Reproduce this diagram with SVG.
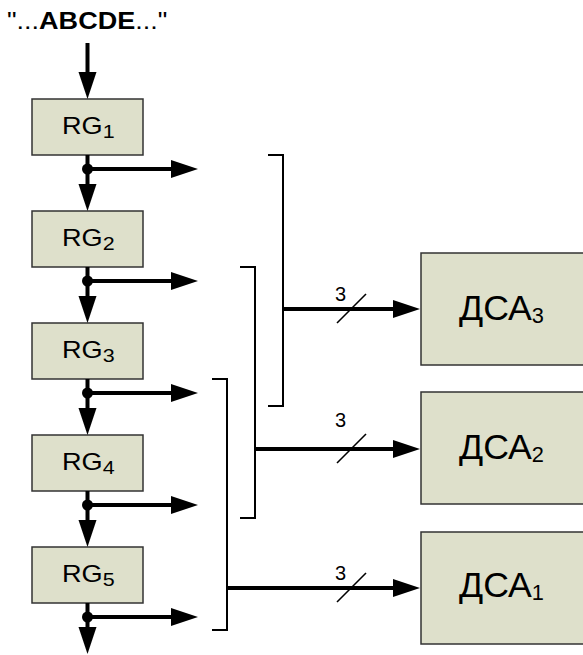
<svg xmlns="http://www.w3.org/2000/svg" width="583" height="655" viewBox="0 0 583 655">
<style>
.box{fill:#dee0cb;stroke:#333;stroke-width:1.5}
.t{font-family:"Liberation Sans",Arial,sans-serif;fill:#000}
.w{stroke:#000;stroke-width:4;fill:none}
.br{stroke:#000;stroke-width:2;fill:none}
.sl{stroke:#000;stroke-width:1.6;fill:none}
</style>
<defs>
<marker id="ah" markerUnits="userSpaceOnUse" markerWidth="28" markerHeight="20" refX="7" refY="9" orient="auto" viewBox="0 0 28 18">
<path d="M0,0 L27,9 L0,18 z" fill="#000"/>
</marker>
</defs>
<rect width="583" height="655" fill="#fff"/>
<text id="title" class="t" font-size="23.5" transform="translate(7,29) scale(1.15,1)">"...<tspan font-weight="bold">ABCDE</tspan>..."</text>

<g id="rg1"><rect class="box" x="32" y="99" width="111" height="56"/><text class="t" font-size="24" transform="translate(62,134) scale(1.13,1)">RG<tspan font-size="19" dy="4">1</tspan></text></g>
<g id="rg2"><rect class="box" x="32" y="211" width="111" height="56"/><text class="t" font-size="24" transform="translate(62,246) scale(1.13,1)">RG<tspan font-size="19" dy="4">2</tspan></text></g>
<g id="rg3"><rect class="box" x="32" y="323" width="111" height="56"/><text class="t" font-size="24" transform="translate(62,358) scale(1.13,1)">RG<tspan font-size="19" dy="4">3</tspan></text></g>
<g id="rg4"><rect class="box" x="32" y="435" width="111" height="56"/><text class="t" font-size="24" transform="translate(62,470) scale(1.13,1)">RG<tspan font-size="19" dy="4">4</tspan></text></g>
<g id="rg5"><rect class="box" x="32" y="547" width="111" height="56"/><text class="t" font-size="24" transform="translate(62,582) scale(1.13,1)">RG<tspan font-size="19" dy="4">5</tspan></text></g>

<g id="dca3"><rect class="box" x="421" y="253" width="170" height="112"/><text class="t" font-size="36" transform="translate(459,320) scale(0.99,1)">ДСА<tspan font-size="22" dy="3">3</tspan></text></g>
<g id="dca2"><rect class="box" x="421" y="392" width="170" height="112"/><text class="t" font-size="36" transform="translate(459,459) scale(0.99,1)">ДСА<tspan font-size="22" dy="3">2</tspan></text></g>
<g id="dca1"><rect class="box" x="421" y="532" width="170" height="112"/><text class="t" font-size="36" transform="translate(459,597) scale(0.99,1)">ДСА<tspan font-size="22" dy="3">1</tspan></text></g>

<g id="connectors">
<line class="w" x1="87.5" y1="43" x2="87.5" y2="79" marker-end="url(#ah)"/>
<line class="w" x1="87.5" y1="155" x2="87.5" y2="191" marker-end="url(#ah)"/>
<line class="w" x1="87.5" y1="267" x2="87.5" y2="303" marker-end="url(#ah)"/>
<line class="w" x1="87.5" y1="379" x2="87.5" y2="415" marker-end="url(#ah)"/>
<line class="w" x1="87.5" y1="491" x2="87.5" y2="527" marker-end="url(#ah)"/>
<line class="w" x1="87.5" y1="603" x2="87.5" y2="634" marker-end="url(#ah)"/>
<line class="w" x1="87.5" y1="169" x2="178" y2="169" marker-end="url(#ah)"/>
<line class="w" x1="87.5" y1="281" x2="178" y2="281" marker-end="url(#ah)"/>
<line class="w" x1="87.5" y1="393" x2="178" y2="393" marker-end="url(#ah)"/>
<line class="w" x1="87.5" y1="505" x2="178" y2="505" marker-end="url(#ah)"/>
<line class="w" x1="87.5" y1="617" x2="178" y2="617" marker-end="url(#ah)"/>
<circle cx="87.5" cy="169" r="5.5"/>
<circle cx="87.5" cy="281" r="5.5"/>
<circle cx="87.5" cy="393" r="5.5"/>
<circle cx="87.5" cy="505" r="5.5"/>
<circle cx="87.5" cy="617" r="5.5"/>
<polyline class="br" points="268,155 283,155 283,406 268,406"/>
<polyline class="br" points="240,267 255,267 255,518 240,518"/>
<polyline class="br" points="212,379 227,379 227,630 212,630"/>
<line class="w" x1="283" y1="309" x2="400" y2="309" marker-end="url(#ah)"/>
<line class="w" x1="255" y1="449" x2="400" y2="449" marker-end="url(#ah)"/>
<line class="w" x1="227" y1="588" x2="400" y2="588" marker-end="url(#ah)"/>
<line class="sl" x1="337" y1="323" x2="366" y2="294"/>
<line class="sl" x1="337" y1="463" x2="366" y2="434"/>
<line class="sl" x1="337" y1="602" x2="366" y2="573"/>
<text class="t" font-size="20" x="335" y="301">3</text>
<text class="t" font-size="20" x="335" y="427">3</text>
<text class="t" font-size="20" x="335" y="580">3</text>
</g>
</svg>
